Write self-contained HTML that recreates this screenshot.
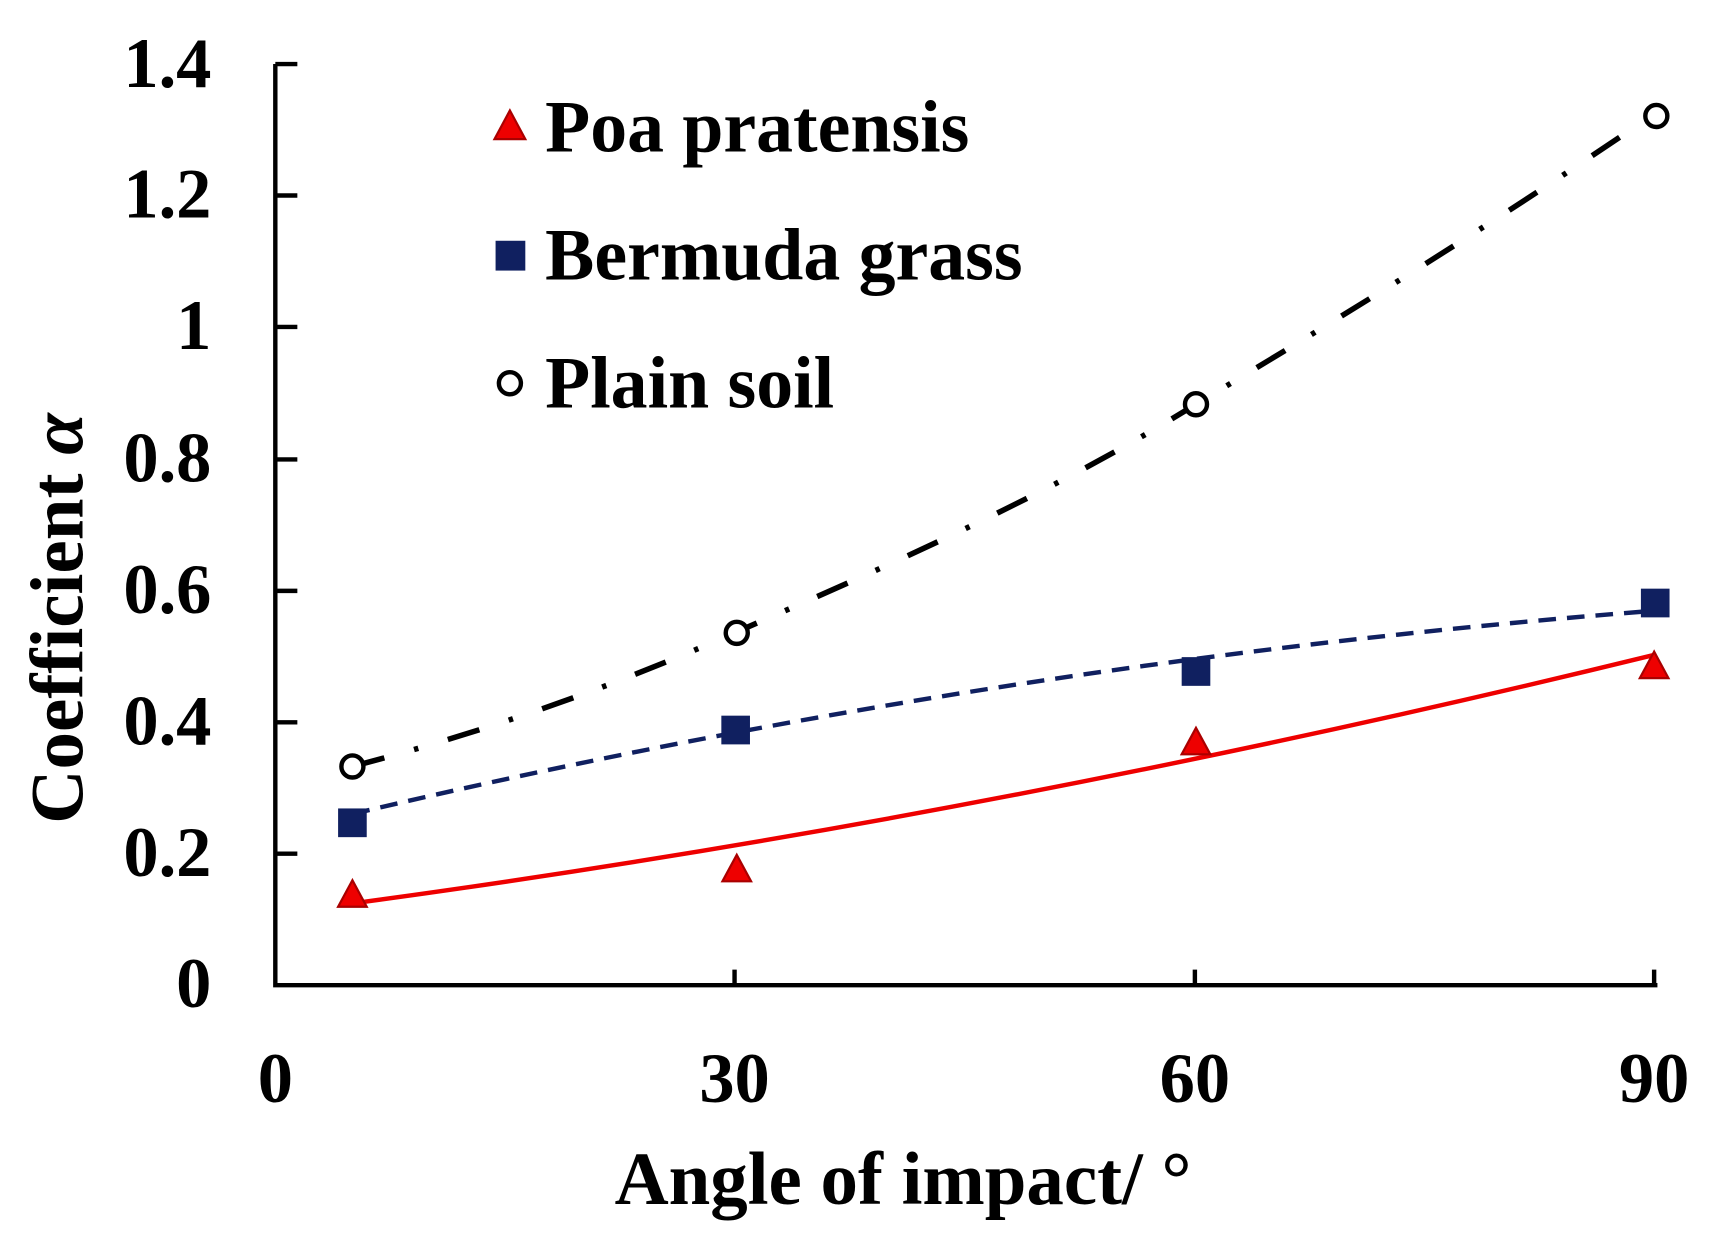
<!DOCTYPE html>
<html><head><style>html,body{margin:0;padding:0;background:#fff}svg{display:block}</style></head>
<body>
<svg width="1718" height="1248" viewBox="0 0 1560 1130" preserveAspectRatio="none" xmlns="http://www.w3.org/2000/svg" font-family="Liberation Serif, serif" font-weight="bold">
<g stroke="#000" stroke-width="4" fill="none">
<path d="M250,58 V892 H1505"/>
<path d="M250,58h20M250,177h20M250,296h20M250,416h20M250,535h20M250,654h20M250,773h20"/>
<path d="M667,892v-14M1085,892v-14M1502,892v-14"/>
</g>
<g font-size="64" text-anchor="end" fill="#000">
<text x="192" y="912">0</text><text x="192" y="793">0.2</text><text x="192" y="674">0.4</text><text x="192" y="555">0.6</text><text x="192" y="436">0.8</text><text x="192" y="316">1</text><text x="192" y="197">1.2</text><text x="192" y="79">1.4</text>
</g>
<g font-size="64" text-anchor="middle" fill="#000">
<text x="250" y="998">0</text><text x="667" y="998">30</text><text x="1085" y="998">60</text><text x="1502" y="998">90</text>
</g>
<text x="820" y="1090" font-size="68" text-anchor="middle">Angle of  impact/ °</text>
<text transform="translate(75,560) rotate(-90)" font-size="68" text-anchor="middle">Coefficient <tspan font-style="italic">α</tspan></text>
<!-- fits -->
<path d="M320,818 Q900,740 1502,593" stroke="#e00" stroke-width="4" fill="none"/>
<path d="M320,737 Q900,600 1502,553" stroke="#102060" stroke-width="4" fill="none" stroke-dasharray="16,10"/>
<path d="M320,694 C450,660 560,620 667,573 C800,515 950,450 1086,366 C1230,280 1360,200 1502,103" stroke="#000" stroke-width="5" fill="none" stroke-dasharray="30,28,4,28"/>
<!-- markers -->
<g fill="#e00" stroke="#a00" stroke-width="2">
<path d="M320,797 l-13,24h26z"/><path d="M669,774 l-13,24h26z"/><path d="M1086,659 l-13,24h26z"/><path d="M1502,590 l-13,24h26z"/>
</g>
<g fill="#102060">
<rect x="307" y="732" width="26" height="26"/><rect x="655" y="648" width="26" height="26"/><rect x="1073" y="595" width="26" height="26"/><rect x="1490" y="533" width="26" height="26"/>
</g>
<g fill="#fff" stroke="#000" stroke-width="4">
<circle cx="320" cy="694" r="10"/><circle cx="669" cy="573" r="10"/><circle cx="1086" cy="366" r="10"/><circle cx="1504" cy="105" r="10"/>
</g>
<!-- legend -->
<path d="M463,100 l-14,26h28z" fill="#e00" stroke="#a00" stroke-width="2"/>
<rect x="450" y="218" width="27" height="27" fill="#102060"/>
<circle cx="463" cy="347" r="10" fill="#fff" stroke="#000" stroke-width="4"/>
<g font-size="67" fill="#000">
<text x="495" y="137">Poa pratensis</text>
<text x="495" y="253">Bermuda grass</text>
<text x="495" y="369">Plain soil</text>
</g>
</svg>
</body></html>
